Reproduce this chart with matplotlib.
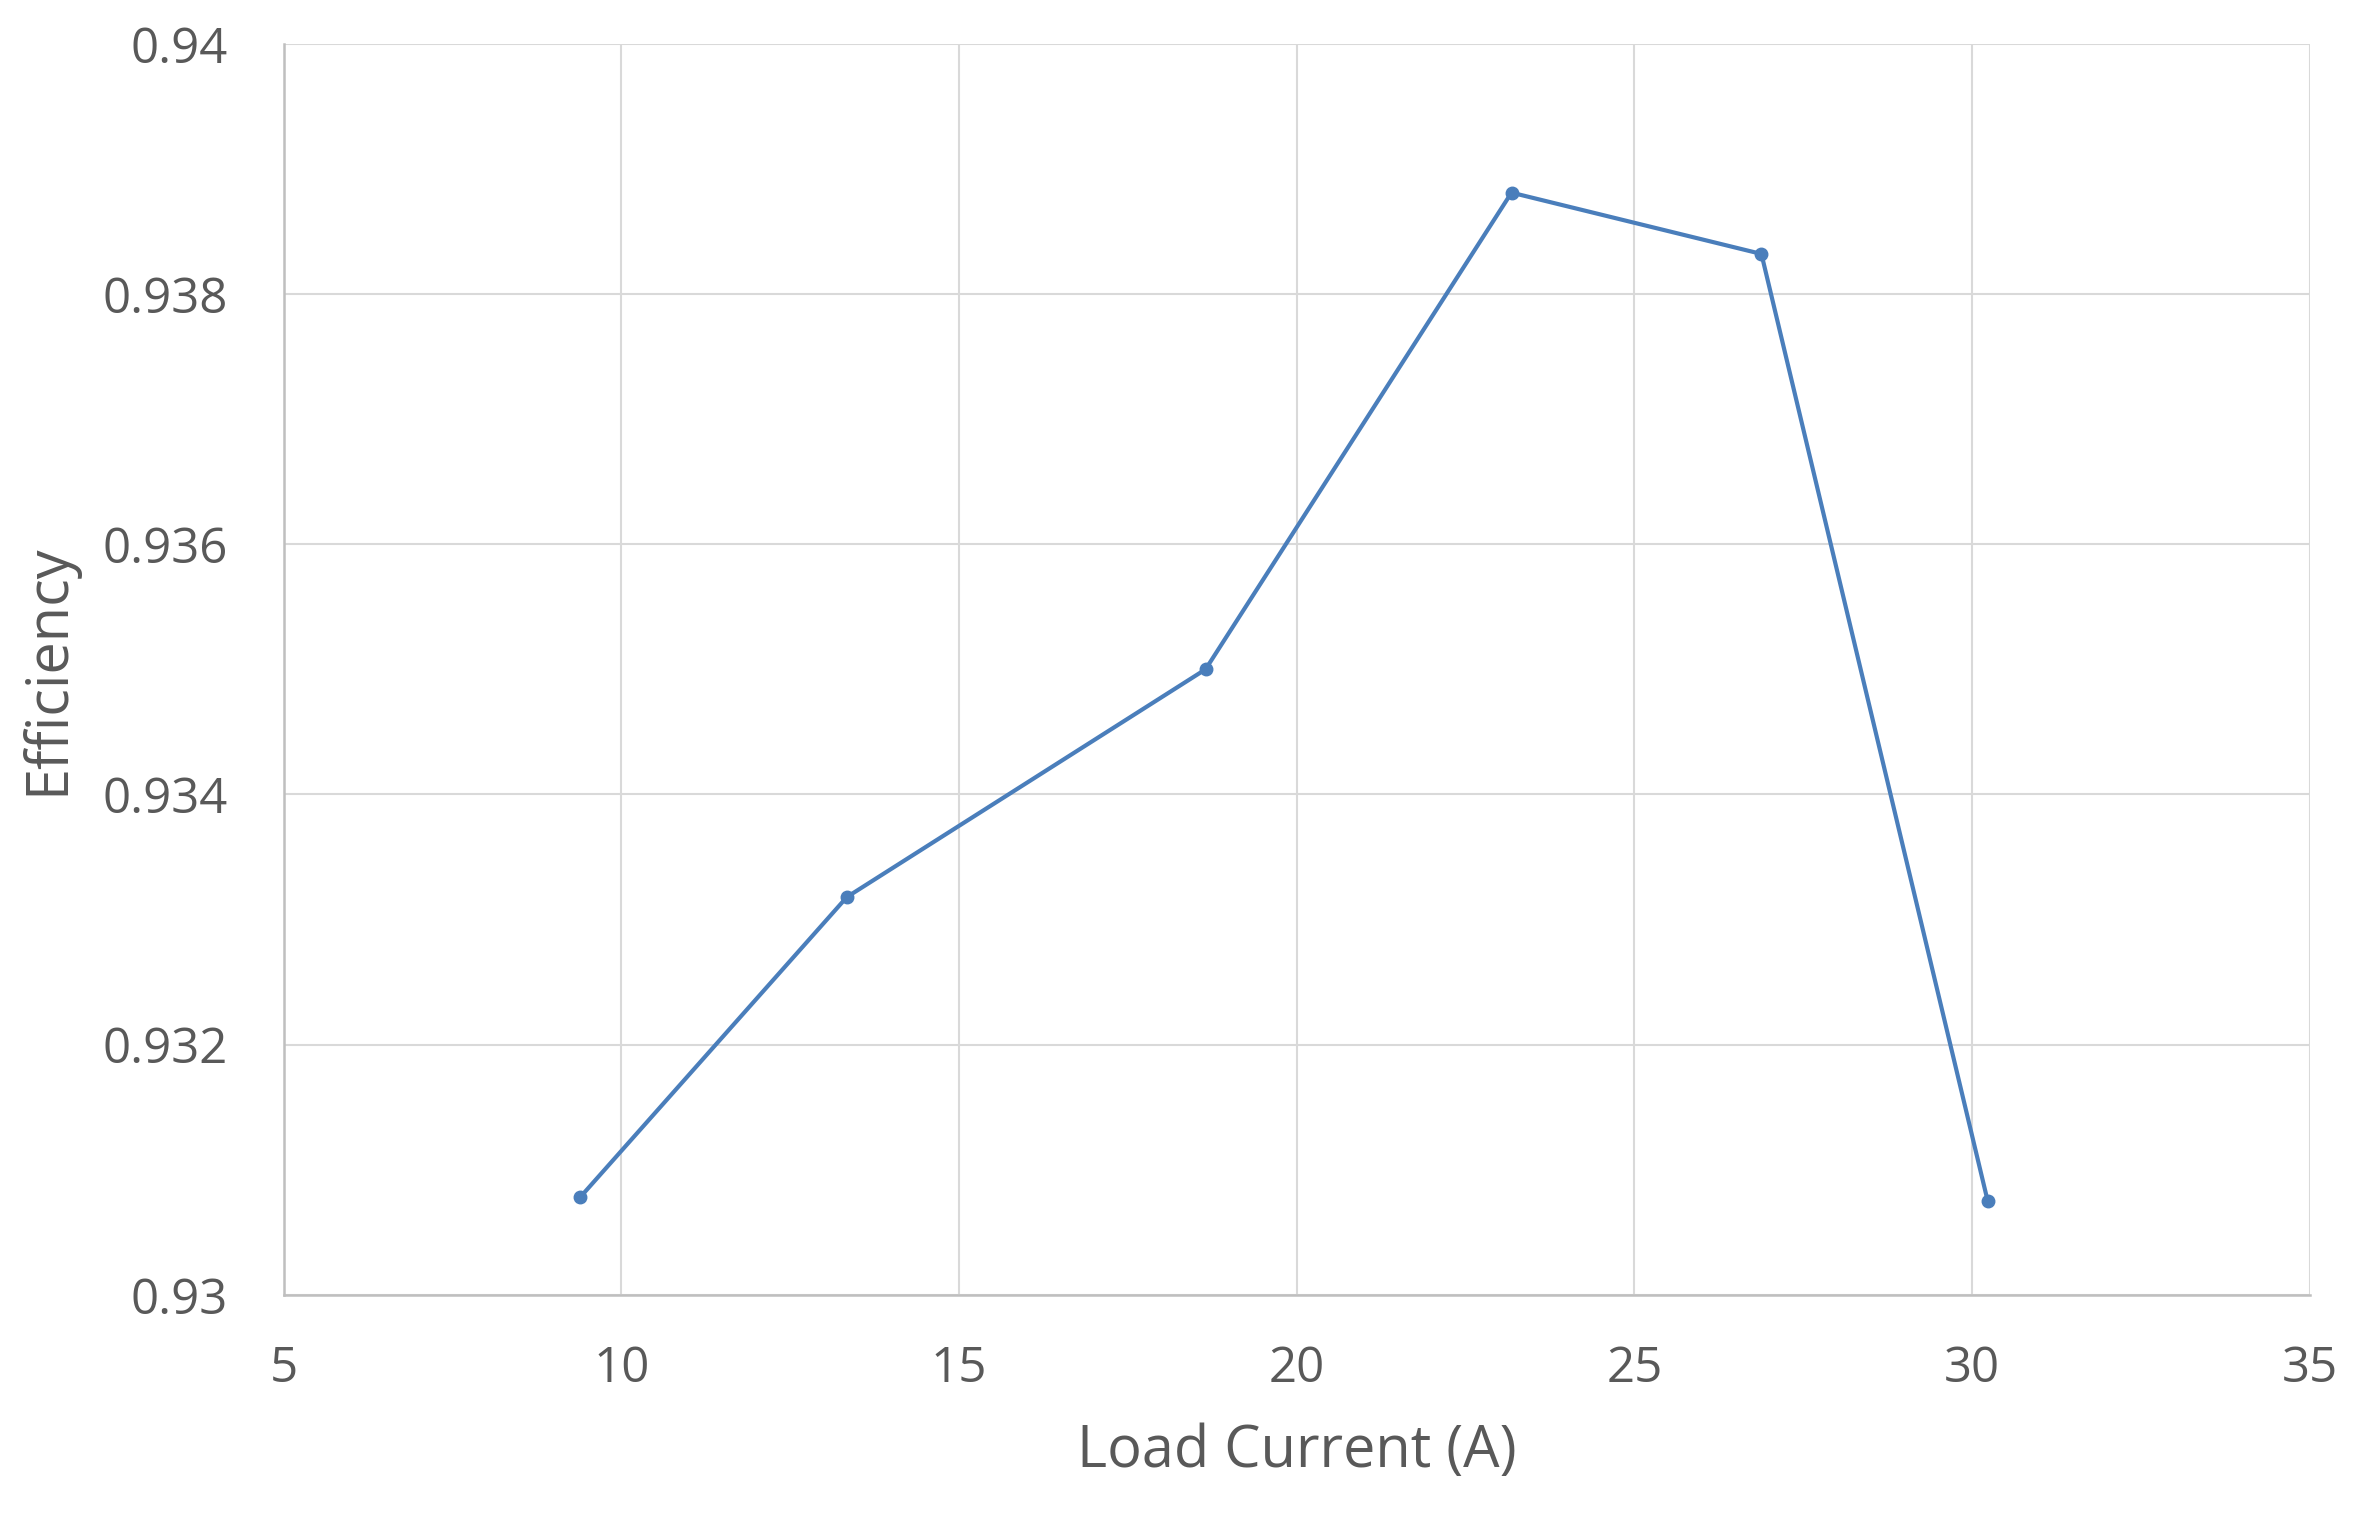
import matplotlib
matplotlib.use("Agg")
import matplotlib.pyplot as plt

load_current = [9.39, 13.34, 18.65, 23.18, 26.88, 30.23]
efficiency = [0.93078, 0.93318, 0.93500, 0.93881, 0.93832, 0.93075]
x_ticks = [5, 10, 15, 20, 25, 30, 35]
y_ticks = [0.93, 0.932, 0.934, 0.936, 0.938, 0.94]
y_tick_labels = ["0.93", "0.932", "0.934", "0.936", "0.938", "0.94"]

plt.rcParams['font.family'] = ['Open Sans', 'DejaVu Sans']
text_color = "#595959"

fig = plt.figure(figsize=(23.65, 15.14), dpi=100)
ax = fig.add_axes([0.1199, 0.1447, 0.8568, 0.8264])

ax.plot(load_current, efficiency, color="#4A7EBB", linewidth=3.0,
        marker="o", markersize=9, zorder=3)

ax.set_xlim(5, 35)
ax.set_ylim(0.93, 0.94)
ax.set_xticks(x_ticks)
ax.set_yticks(y_ticks)
ax.set_yticklabels(y_tick_labels)

ax.grid(True, color="#d9d9d9", linewidth=1.5)
ax.set_axisbelow(True)
for side in ["top", "right"]:
    ax.spines[side].set_visible(False)
for side in ["left", "bottom"]:
    ax.spines[side].set_color("#bfbfbf")
    ax.spines[side].set_linewidth(1.8)

ax.tick_params(axis="both", length=0, labelsize=35.5, labelcolor=text_color)
ax.tick_params(axis="y", pad=40)
ax.tick_params(axis="x", pad=36)

ax.set_xlabel("Load Current (A)", fontsize=41.5, color=text_color, labelpad=20)
ax.set_ylabel("Efficiency", fontsize=41.5, color=text_color, labelpad=18)

fig.savefig("out.png", dpi=100, facecolor="white")
